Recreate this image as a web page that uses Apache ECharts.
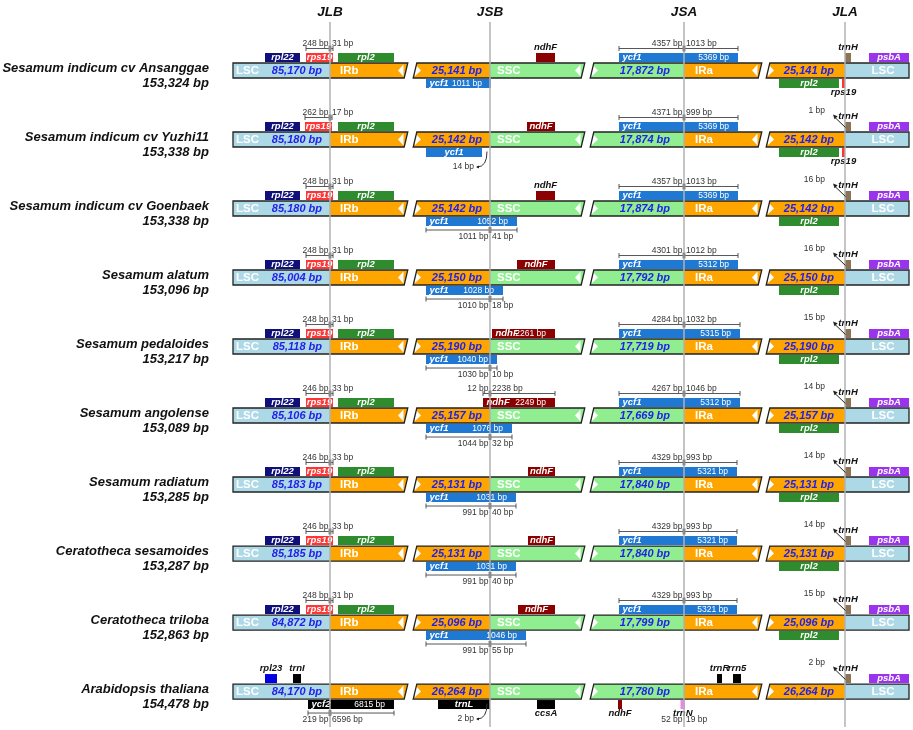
<!DOCTYPE html>
<html>
<head>
<meta charset="utf-8">
<title>IR boundaries</title>
<script src="https://cdn.jsdelivr.net/npm/echarts@6/dist/echarts.min.js"></script>
<style>
  html, body { margin: 0; padding: 0; background: #fff; }
  #chart { width: 913px; height: 730px; }
</style>
</head>
<body>
<div id="chart"></div>
<script>
// ---- data ----
const species = [
  "Sesamum indicum cv Ansanggae",
  "Sesamum indicum cv Yuzhi11",
  "Sesamum indicum cv Goenbaek",
  "Sesamum alatum",
  "Sesamum pedaloides",
  "Sesamum angolense",
  "Sesamum radiatum",
  "Ceratotheca sesamoides",
  "Ceratotheca triloba",
  "Arabidopsis thaliana"
];
const genomeSize = [153324, 153338, 153338, 153096, 153217, 153089, 153285, 153287, 152863, 154478];
const lscSize = [85170, 85180, 85180, 85004, 85118, 85106, 85183, 85185, 84872, 84170];
const irSize = [25141, 25142, 25142, 25150, 25190, 25157, 25131, 25131, 25096, 26264];
const sscSize = [17872, 17874, 17874, 17792, 17719, 17669, 17840, 17840, 17799, 17780];
const junctionNames = ["JLB", "JSB", "JSA", "JLA"];

// genes: [row, gene, junction, from, to, side, size label]
// from/to are schematic offsets from the junction
const genes = [
  [0, "rpl22", 0, -65, -30, "top", ""],
  [0, "rps19", 0, -24, 3, "top", ""],
  [0, "rpl2", 0, 8, 64, "top", ""],
  [0, "ndhF", 1, 46, 65, "top", ""],
  [0, "ycf1", 1, -64, 1, "bottom", "1011 bp"],
  [0, "ycf1", 2, -65, 54, "top", "5369 bp"],
  [0, "trnH", 3, 0, 6, "top", ""],
  [0, "psbA", 3, 24, 64, "top", ""],
  [0, "rpl2", 3, -66, -6, "bottom", ""],
  [0, "rps19", 3, -3, 0, "bottom", ""],

  [1, "rpl22", 0, -65, -30, "top", ""],
  [1, "rps19", 0, -25, 2, "top", ""],
  [1, "rpl2", 0, 8, 64, "top", ""],
  [1, "ndhF", 1, 37, 65, "top", ""],
  [1, "ycf1", 1, -64, -8, "bottom", ""],
  [1, "ycf1", 2, -65, 54, "top", "5369 bp"],
  [1, "trnH", 3, 0, 6, "top", ""],
  [1, "psbA", 3, 24, 64, "top", ""],
  [1, "rpl2", 3, -66, -6, "bottom", ""],
  [1, "rps19", 3, -3, 0, "bottom", ""],

  [2, "rpl22", 0, -65, -30, "top", ""],
  [2, "rps19", 0, -24, 3, "top", ""],
  [2, "rpl2", 0, 8, 64, "top", ""],
  [2, "ndhF", 1, 46, 65, "top", ""],
  [2, "ycf1", 1, -64, 27, "bottom", "1052 bp"],
  [2, "ycf1", 2, -65, 54, "top", "5369 bp"],
  [2, "trnH", 3, 0, 6, "top", ""],
  [2, "psbA", 3, 24, 64, "top", ""],
  [2, "rpl2", 3, -66, -6, "bottom", ""],

  [3, "rpl22", 0, -65, -30, "top", ""],
  [3, "rps19", 0, -24, 3, "top", ""],
  [3, "rpl2", 0, 8, 64, "top", ""],
  [3, "ndhF", 1, 27, 65, "top", ""],
  [3, "ycf1", 1, -64, 13, "bottom", "1028 bp"],
  [3, "ycf1", 2, -65, 54, "top", "5312 bp"],
  [3, "trnH", 3, 0, 6, "top", ""],
  [3, "psbA", 3, 24, 64, "top", ""],
  [3, "rpl2", 3, -66, -6, "bottom", ""],

  [4, "rpl22", 0, -65, -30, "top", ""],
  [4, "rps19", 0, -24, 3, "top", ""],
  [4, "rpl2", 0, 8, 64, "top", ""],
  [4, "ndhF", 1, 2, 65, "top", "2261 bp"],
  [4, "ycf1", 1, -64, 7, "bottom", "1040 bp"],
  [4, "ycf1", 2, -65, 56, "top", "5315 bp"],
  [4, "trnH", 3, 0, 6, "top", ""],
  [4, "psbA", 3, 24, 64, "top", ""],
  [4, "rpl2", 3, -66, -6, "bottom", ""],

  [5, "rpl22", 0, -65, -30, "top", ""],
  [5, "rps19", 0, -24, 3, "top", ""],
  [5, "rpl2", 0, 8, 64, "top", ""],
  [5, "ndhF", 1, -7, 65, "top", "2249 bp"],
  [5, "ycf1", 1, -64, 22, "bottom", "1076 bp"],
  [5, "ycf1", 2, -65, 56, "top", "5312 bp"],
  [5, "trnH", 3, 0, 6, "top", ""],
  [5, "psbA", 3, 24, 64, "top", ""],
  [5, "rpl2", 3, -66, -6, "bottom", ""],

  [6, "rpl22", 0, -65, -30, "top", ""],
  [6, "rps19", 0, -24, 3, "top", ""],
  [6, "rpl2", 0, 8, 64, "top", ""],
  [6, "ndhF", 1, 38, 65, "top", ""],
  [6, "ycf1", 1, -64, 26, "bottom", "1031 bp"],
  [6, "ycf1", 2, -65, 53, "top", "5321 bp"],
  [6, "trnH", 3, 0, 6, "top", ""],
  [6, "psbA", 3, 24, 64, "top", ""],
  [6, "rpl2", 3, -66, -6, "bottom", ""],

  [7, "rpl22", 0, -65, -30, "top", ""],
  [7, "rps19", 0, -24, 3, "top", ""],
  [7, "rpl2", 0, 8, 64, "top", ""],
  [7, "ndhF", 1, 38, 65, "top", ""],
  [7, "ycf1", 1, -64, 26, "bottom", "1031 bp"],
  [7, "ycf1", 2, -65, 53, "top", "5321 bp"],
  [7, "trnH", 3, 0, 6, "top", ""],
  [7, "psbA", 3, 24, 64, "top", ""],
  [7, "rpl2", 3, -66, -6, "bottom", ""],

  [8, "rpl22", 0, -65, -30, "top", ""],
  [8, "rps19", 0, -24, 3, "top", ""],
  [8, "rpl2", 0, 8, 64, "top", ""],
  [8, "ndhF", 1, 28, 65, "top", ""],
  [8, "ycf1", 1, -64, 36, "bottom", "1046 bp"],
  [8, "ycf1", 2, -65, 53, "top", "5321 bp"],
  [8, "trnH", 3, 0, 6, "top", ""],
  [8, "psbA", 3, 24, 64, "top", ""],
  [8, "rpl2", 3, -66, -6, "bottom", ""],

  [9, "rpl23", 0, -65, -53, "top", ""],
  [9, "trnI", 0, -37, -29, "top", ""],
  [9, "ycf2", 0, -22, 64, "bottom", "6815 bp"],
  [9, "trnL", 1, -52, 0, "bottom", ""],
  [9, "ccsA", 1, 47, 65, "bottom", ""],
  [9, "ndhF", 2, -66, -62, "bottom", ""],
  [9, "trnN", 2, -3.5, 1, "bottom", ""],
  [9, "trnR", 2, 33, 38, "top", ""],
  [9, "rrn5", 2, 49, 57, "top", ""],
  [9, "trnH", 3, 0, 6, "top", ""],
  [9, "psbA", 3, 24, 64, "top", ""]
];

// distances across junctions: [row, junction, from, to, side, left text, right text, draw line]
const dims = [
  [0, 0, -24, 3, "top", "248 bp", "31 bp", 1],
  [1, 0, -25, 2, "top", "262 bp", "17 bp", 1],
  [2, 0, -24, 3, "top", "248 bp", "31 bp", 1],
  [3, 0, -24, 3, "top", "248 bp", "31 bp", 1],
  [4, 0, -24, 3, "top", "248 bp", "31 bp", 1],
  [5, 0, -24, 3, "top", "246 bp", "33 bp", 1],
  [6, 0, -24, 3, "top", "246 bp", "33 bp", 1],
  [7, 0, -24, 3, "top", "246 bp", "33 bp", 1],
  [8, 0, -24, 3, "top", "248 bp", "31 bp", 1],
  [0, 2, -65, 54, "top", "4357 bp", "1013 bp", 1],
  [1, 2, -65, 54, "top", "4371 bp", "999 bp", 1],
  [2, 2, -65, 54, "top", "4357 bp", "1013 bp", 1],
  [3, 2, -65, 54, "top", "4301 bp", "1012 bp", 1],
  [4, 2, -65, 56, "top", "4284 bp", "1032 bp", 1],
  [5, 2, -65, 56, "top", "4267 bp", "1046 bp", 1],
  [6, 2, -65, 53, "top", "4329 bp", "993 bp", 1],
  [7, 2, -65, 53, "top", "4329 bp", "993 bp", 1],
  [8, 2, -65, 53, "top", "4329 bp", "993 bp", 1],
  [5, 1, -7, 65, "top", "12 bp", "2238 bp", 1],
  [2, 1, -64, 27, "bottom", "1011 bp", "41 bp", 1],
  [3, 1, -64, 13, "bottom", "1010 bp", "18 bp", 1],
  [4, 1, -64, 7, "bottom", "1030 bp", "10 bp", 1],
  [5, 1, -64, 22, "bottom", "1044 bp", "32 bp", 1],
  [6, 1, -64, 26, "bottom", "991 bp", "40 bp", 1],
  [7, 1, -64, 26, "bottom", "991 bp", "40 bp", 1],
  [8, 1, -64, 36, "bottom", "991 bp", "55 bp", 1],
  [9, 0, -22, 64, "bottom", "219 bp", "6596 bp", 1],
  [9, 2, -3.5, 1, "bottom", "52 bp", "19 bp", 0]
];

// trnH distance from JLA: [row, text]
const trnHGap = [
  [1, "1 bp"], [2, "16 bp"], [3, "16 bp"], [4, "15 bp"], [5, "14 bp"],
  [6, "14 bp"], [7, "14 bp"], [8, "15 bp"], [9, "2 bp"]
];
// gene ends short of JSB: [row, junction, text]
const shortGap = [[1, 1, "14 bp"], [9, 1, "2 bp"]];

// ---- layout (schematic track) ----
const track = {
  start: 233, end: 909,
  junctions: [330, 490, 684, 845],
  gaps: [[406, 415], [583, 592], [760, 768]]
};
const yRange = [-0.703, 9.514];
const regionColor = {LSC: "#add8e6", IR: "#ffa500", SSC: "#90ee90"};
const geneColor = {
  rpl22: "#10107a", rps19: "#ff3535", rpl2: "#2e8b2e", ndhF: "#8b0000",
  ycf1: "#1f78d1", trnH: "#8b7355", psbA: "#9a34ec", rpl23: "#0000e0",
  trnI: "#000", ycf2: "#000", trnL: "#000", ccsA: "#000", trnN: "#ee82ee",
  trnR: "#000", rrn5: "#000"
};
const FAM = '"Liberation Sans", Arial, Helvetica, sans-serif';
const fonts = {
  species: "italic bold 13px " + FAM,
  header: "italic bold 13.5px " + FAM,
  region: "bold 11.5px " + FAM,
  size: "italic bold 11px " + FAM,
  gene: "italic bold 9.5px " + FAM,
  geneOut: "italic bold 9.5px " + FAM,
  geneLen: "8.5px " + FAM,
  dim: "8.5px " + FAM
};

function txt(text, x, y, font, fill, align) {
  const a = align || "left";
  return {
    type: "text",
    style: {text: text, x: x, y: y, font: font, fill: fill,
      align: a, textAlign: a, verticalAlign: "middle", textVerticalAlign: "middle"}
  };
}

function quad(x0, x1, top, bot, sl, sr) {
  return [[x0 + sl, top], [x1 + sr, top], [x1 - sr, bot], [x0 - sl, bot]];
}

function arrowHead(tx, ty, hx, hy, len, half) {
  const dx = hx - tx, dy = hy - ty;
  const d = Math.sqrt(dx * dx + dy * dy);
  const ux = dx / d, uy = dy / d;
  const bx = hx - ux * len, by = hy - uy * len;
  return {type: "polygon", shape: {points: [[hx, hy], [bx - uy * half, by + ux * half], [bx + uy * half, by - ux * half]]},
    style: {fill: "#222"}};
}

function fmt(n) {
  return n.toLocaleString("en-US") + " bp";
}

function renderBackbone(params, api) {
  const row = api.value(0);
  const cy = api.coord([0, row])[1];
  const X = v => api.coord([v, row])[0];
  const top = cy - 7.5, bot = cy + 7.5;
  const [j0, j1, j2, j3] = track.junctions;
  const g = track.gaps;
  const S = 1.8;
  const regions = [
    [track.start, j0, regionColor.LSC, 0, 0],
    [j0, g[0][0], regionColor.IR, 0, S],
    [g[0][1], j1, regionColor.IR, S, 0],
    [j1, g[1][0], regionColor.SSC, 0, S],
    [g[1][1], j2, regionColor.SSC, S, 0],
    [j2, g[2][0], regionColor.IR, 0, S],
    [g[2][1], j3, regionColor.IR, S, 0],
    [j3, track.end, regionColor.LSC, 0, 0]
  ];
  const pieces = [
    [track.start, g[0][0], 0, S],
    [g[0][1], g[1][0], S, S],
    [g[1][1], g[2][0], S, S],
    [g[2][1], track.end, S, 0]
  ];
  const kids = [];
  regions.forEach(r => {
    kids.push({type: "polygon", shape: {points: quad(X(r[0]), X(r[1]), top, bot, r[3], r[4])},
      style: {fill: r[2]}});
  });
  // white arrows beside the breaks
  pieces.forEach((p, i) => {
    if (i < 3) {
      const bx = X(p[1]) - 2.5;
      kids.push({type: "polygon", shape: {points: [[bx - 5.5, cy], [bx, top + 1.5], [bx, bot - 1.5]]},
        style: {fill: "#fff"}});
    }
    if (i > 0) {
      const bx = X(p[0]) + 0.5;
      kids.push({type: "polygon", shape: {points: [[bx + 5.5, cy], [bx, top + 1.5], [bx - 1, bot - 1.5]]},
        style: {fill: "#fff"}});
    }
  });
  pieces.forEach(p => {
    kids.push({type: "polygon", shape: {points: quad(X(p[0]), X(p[1]), top, bot, p[2], p[3])},
      style: {fill: "none", stroke: "#222", lineWidth: 1.3}});
  });
  const blue = "#2121e8";
  kids.push(txt("LSC", X(track.start) + 3, cy, fonts.region, "#fff", "left"));
  kids.push(txt(fmt(lscSize[row]), X(j0) - 8, cy, fonts.size, blue, "right"));
  kids.push(txt("IRb", X(j0) + 10, cy, fonts.region, "#fff", "left"));
  kids.push(txt(fmt(irSize[row]), X(j1) - 8, cy, fonts.size, blue, "right"));
  kids.push(txt("SSC", X(j1) + 7, cy, fonts.region, "#fff", "left"));
  kids.push(txt(fmt(sscSize[row]), X(j2) - 14, cy, fonts.size, blue, "right"));
  kids.push(txt("IRa", X(j2) + 11, cy, fonts.region, "#fff", "left"));
  kids.push(txt(fmt(irSize[row]), X(j3) - 11, cy, fonts.size, blue, "right"));
  kids.push(txt("LSC", X(track.end) - 26, cy, fonts.region, "#fff", "center"));
  // species label
  const lx = X(track.start) - 24;
  kids.push(txt(species[row], lx, cy - 2, fonts.species, "#111", "right"));
  kids.push(txt(fmt(genomeSize[row]), lx, cy + 13, fonts.species, "#111", "right"));
  return {type: "group", children: kids};
}

function renderGene(params, api) {
  const g = genes[params.dataIndex];
  const row = api.value(2);
  const cy = api.coord([0, row])[1];
  const x0 = api.coord([api.value(0), row])[0];
  const x1 = api.coord([api.value(1), row])[0];
  const up = g[5] === "top";
  const h = 9;
  const y0 = up ? cy - 17.5 : cy + 8.5;
  const my = y0 + h / 2;
  const kids = [{type: "rect", shape: {x: x0, y: y0, width: x1 - x0, height: h}, style: {fill: geneColor[g[1]]}}];
  if (x1 - x0 < 24) {
    kids.push(txt(g[1], (x0 + x1) / 2, up ? cy - 23 : cy + 22, fonts.geneOut, "#111", "center"));
  } else if (g[6]) {
    kids.push(txt(g[1], x0 + 3.5, my, fonts.gene, "#fff", "left"));
    kids.push(txt(g[6], x1 - 9, my, fonts.geneLen, "#fff", "right"));
  } else {
    kids.push(txt(g[1], (x0 + x1) / 2, my, fonts.gene, "#fff", "center"));
  }
  return {type: "group", children: kids};
}

function renderJunction(params, api) {
  const x = api.value(0);
  const p0 = api.coord([x, yRange[0]]);
  const p1 = api.coord([x, yRange[1]]);
  return {type: "group", children: [
    {type: "line", shape: {x1: p0[0], y1: p0[1], x2: p1[0], y2: p1[1]}, style: {stroke: "#b2b2b2", lineWidth: 1.5}},
    txt(junctionNames[params.dataIndex], p0[0], p0[1] - 10, fonts.header, "#111", "center")
  ]};
}

function renderDim(params, api) {
  const d = dims[params.dataIndex];
  const row = api.value(2);
  const cy = api.coord([0, row])[1];
  const X = v => api.coord([v, row])[0];
  const x0 = X(api.value(0)), x1 = X(api.value(1)), xj = X(api.value(3));
  const up = d[4] === "top";
  const ly = cy + (up ? -22 : 21.5);
  const ty = cy + (up ? -27 : 28.5);
  const kids = [];
  if (d[7]) {
    const st = {stroke: "#444", lineWidth: 0.9};
    kids.push({type: "line", shape: {x1: x0, y1: ly, x2: x1, y2: ly}, style: st});
    kids.push({type: "line", shape: {x1: x0, y1: ly - 2.5, x2: x0, y2: ly + 2.5}, style: st});
    kids.push({type: "line", shape: {x1: x1, y1: ly - 2.5, x2: x1, y2: ly + 2.5}, style: st});
    kids.push({type: "rect", shape: {x: xj - 1.5, y: ly - 3, width: 3, height: 6}, style: {fill: "#8a8a8a"}});
  }
  kids.push(txt(d[5], xj - 1.5, ty, fonts.dim, "#333", "right"));
  kids.push(txt(d[6], xj + 2, ty, fonts.dim, "#333", "left"));
  return {type: "group", children: kids};
}

function renderTrnH(params, api) {
  const row = api.value(1);
  const cy = api.coord([0, row])[1];
  const xj = api.coord([api.value(0), row])[0];
  const tx = xj + 0.5, ty = cy - 12, hx = xj - 12, hy = cy - 25;
  return {type: "group", children: [
    {type: "line", shape: {x1: tx, y1: ty, x2: hx + 2, y2: hy + 3}, style: {stroke: "#222", lineWidth: 1}},
    arrowHead(tx, ty, hx, hy, 4.5, 2.2),
    txt(trnHGap[params.dataIndex][1], xj - 20, cy - 29, fonts.dim, "#333", "right")
  ]};
}

function renderShort(params, api) {
  const row = api.value(1);
  const cy = api.coord([0, row])[1];
  const xj = api.coord([api.value(0), row])[0];
  const sx = xj - 3, sy = cy + 12, ex = xj - 13, ey = cy + 27.5;
  return {type: "group", children: [
    {type: "bezierCurve", shape: {x1: sx, y1: sy, x2: ex, y2: ey, cpx1: sx, cpy1: ey},
      style: {stroke: "#333", lineWidth: 1, fill: "none"}},
    arrowHead(ex + 3, ey, ex - 1, ey, 3, 1.5),
    txt(shortGap[params.dataIndex][2], xj - 16, ey, fonts.dim, "#333", "right")
  ]};
}

const chart = echarts.init(document.getElementById("chart"));
chart.setOption({
  animation: false,
  backgroundColor: "#fff",
  grid: {left: 0, right: 0, top: 22, bottom: 3},
  xAxis: {type: "value", min: 0, max: 913, show: false},
  yAxis: {type: "value", min: yRange[0], max: yRange[1], inverse: true, show: false},
  series: [
    {type: "custom", name: "backbone", renderItem: renderBackbone,
      data: species.map((s, i) => [i]), encode: {y: 0}},
    {type: "custom", name: "genes", renderItem: renderGene,
      data: genes.map(g => [track.junctions[g[2]] + g[3], track.junctions[g[2]] + g[4], g[0]]),
      encode: {x: [0, 1], y: 2}},
    {type: "custom", name: "junctions", renderItem: renderJunction,
      data: track.junctions.map(x => [x]), encode: {x: 0}},
    {type: "custom", name: "dims", renderItem: renderDim,
      data: dims.map(d => [track.junctions[d[1]] + d[2], track.junctions[d[1]] + d[3], d[0], track.junctions[d[1]]]),
      encode: {x: [0, 1], y: 2}},
    {type: "custom", name: "trnH gap", renderItem: renderTrnH,
      data: trnHGap.map(t => [track.junctions[3], t[0]]), encode: {x: 0, y: 1}},
    {type: "custom", name: "short gap", renderItem: renderShort,
      data: shortGap.map(t => [track.junctions[t[1]], t[0]]), encode: {x: 0, y: 1}}
  ]
});
</script>
</body>
</html>
